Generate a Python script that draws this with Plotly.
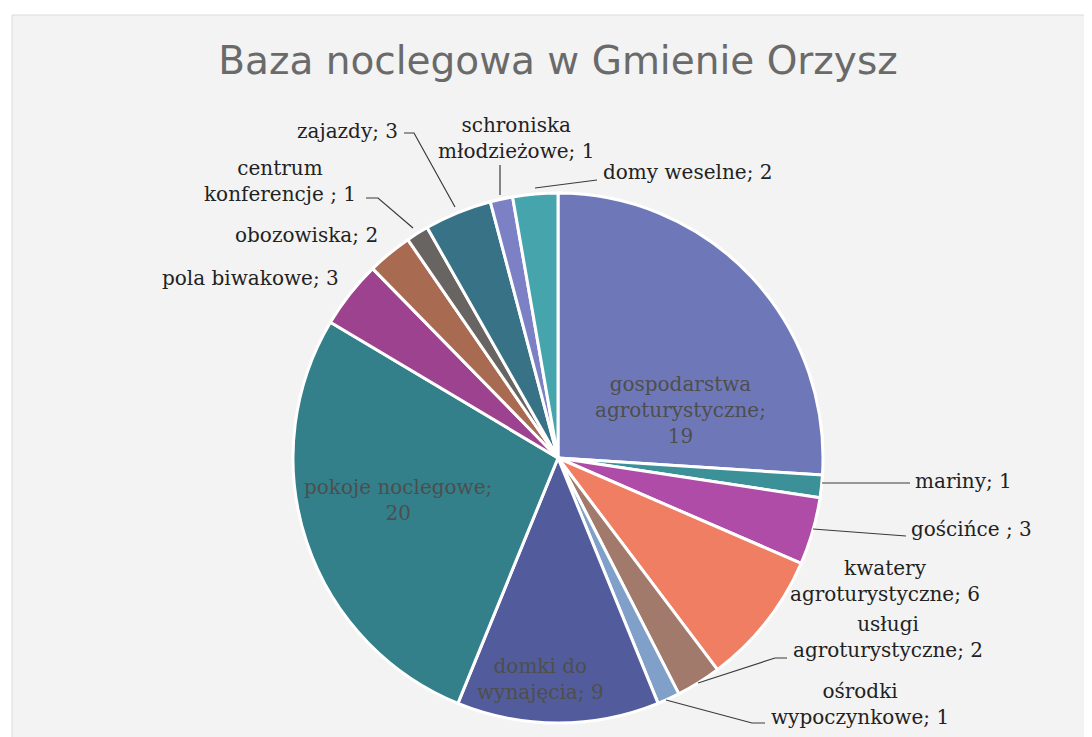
import plotly.graph_objects as go

W, H = 1092, 737
OFF = 8  # page body margin

categories = [
    "gospodarstwa agroturystyczne", "mariny", "gościńce ", "kwatery agroturystyczne",
    "usługi agroturystyczne", "ośrodki wypoczynkowe", "domki do wynajęcia",
    "pokoje noclegowe", "pola biwakowe", "obozowiska", "centrum konferencje ",
    "zajazdy", "schroniska młodzieżowe", "domy weselne",
]
values = [19, 1, 3, 6, 2, 1, 9, 20, 3, 2, 1, 3, 1, 2]
colors = [
    "#6E78B8", "#3C9098", "#AE4CA8", "#F07E62", "#A27A6C", "#80A0CA", "#525C9C",
    "#33808A", "#9C428E", "#A86A50", "#686462", "#387286", "#7C80C4", "#46A4AC",
]
# how each label is wrapped: "{n}" name, "{v}" value
label_formats = [
    "gospodarstwa<br>agroturystyczne;<br>{v}", "{n}; {v}", "{n}; {v}",
    "kwatery<br>agroturystyczne; {v}", "usługi<br>agroturystyczne; {v}",
    "ośrodki<br>wypoczynkowe; {v}", "domki do<br>wynajęcia; {v}",
    "{n};<br>{v}", "{n}; {v}", "{n}; {v}", "centrum<br>konferencje ; {v}",
    "{n}; {v}", "schroniska<br>młodzieżowe; {v}", "{n}; {v}",
]
inside = [True, False, False, False, False, False, True, True,
          False, False, False, False, False, False]
# label anchor (pixel) and alignment
label_pos = [
    (680, 410, "center"), (913, 481, "left"), (909, 529, "left"), (885, 581, "center"),
    (888, 637, "center"), (860, 704, "center"), (540, 679, "center"), (398, 500, "center"),
    (250, 278, "center"), (306, 235, "center"), (280, 181, "center"), (400, 131, "right"),
    (516, 138, "center"), (601, 172, "left"),
]
# leader lines in pixels
leaders = [
    [(822, 483), (910, 483)],
    [(813, 529), (906, 536)],
    [(698, 683), (775, 658), (787, 658)],
    [(666, 700), (752, 723), (765, 723)],
    [(535, 188), (597, 180)],
    [(500, 195), (500, 165)],
    [(455, 207), (414, 133), (404, 133)],
    [(413, 228), (378, 198), (366, 198)],
]


def px(x):
    return (x - OFF) / W


def py(y):
    return 1 - (y - OFF) / H


cx, cy, r = 558, 458, 265

fig = go.Figure(go.Pie(
    labels=categories, values=values, sort=False, direction="clockwise", rotation=0,
    marker=dict(colors=colors, line=dict(color="white", width=3)),
    textinfo="none", hoverinfo="label+value",
    domain=dict(x=[px(cx - r), px(cx + r)], y=[py(cy + r), py(cy - r)]),
    showlegend=False,
))

shapes = [dict(type="rect", xref="paper", yref="paper", x0=px(12), x1=1.0, y0=0, y1=py(15),
               fillcolor="#F3F3F3", line=dict(color="#DCDCDC", width=1), layer="below")]
for pts in leaders:
    path = "M " + " L ".join(f"{px(x)},{py(y)}" for x, y in pts)
    shapes.append(dict(type="path", xref="paper", yref="paper", path=path,
                       line=dict(color="#3A3A3A", width=1.2)))

annotations = []
for n, v, fmt, ins, (x, y, al) in zip(categories, values, label_formats, inside, label_pos):
    txt = fmt.format(n=n, v=v)
    annotations.append(dict(
        x=px(x), y=py(y), xref="paper", yref="paper", text=txt, showarrow=False,
        xanchor=al, yanchor="middle", align="center",
        font=dict(family="DejaVu Serif", size=20, color="#4E4E4E" if ins else "#222222"),
    ))

fig.update_layout(
    width=W, height=H, margin=dict(l=0, r=0, t=0, b=0),
    paper_bgcolor="white", plot_bgcolor="white",
    title=dict(text="Baza noclegowa w Gmienie Orzysz", x=px(558), xanchor="center",
               y=py(60), yanchor="middle",
               font=dict(family="DejaVu Sans", size=39, color="#6A6A6A")),
    shapes=shapes, annotations=annotations,
)

fig.write_html("out.html")
